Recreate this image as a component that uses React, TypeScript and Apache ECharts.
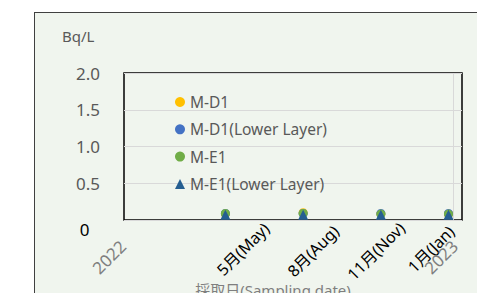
import React, { useEffect, useRef } from "react";
import * as echarts from "echarts";

const FONT = '"Noto Sans", "Noto Sans CJK JP", sans-serif';

const sampleDates = ["2022-05-01", "2022-08-01", "2022-11-01", "2023-01-20"];
const seriesNames = ["M-D1", "M-D1(Lower Layer)", "M-E1", "M-E1(Lower Layer)"];
const mD1 = [0.08, 0.1, 0.08, 0.08];
const mD1Lower = [0.09, 0.09, 0.09, 0.09];
const mE1 = [0.09, 0.09, 0.08, 0.08];
const mE1Lower = [0.07, 0.07, 0.07, 0.07];
const seriesColors = ["#FFC000", "#4472C4", "#70AD47", "#255E91"];
const seriesSymbols = ["circle", "circle", "circle", "triangle"];
const monthLabels = ["5月(May)", "8月(Aug)", "11月(Nov)", "1月(Jan)"];
const yearLabels = ["2022", "2023"];
const yTickLabels = ["0", "0.5", "1.0", "1.5", "2.0"];
const xMin = "2022-01-01";
const xMax = "2023-02-05";
const yearBoundaryLine = "2023-01-26";

export default function App() {
  const ref = useRef<HTMLDivElement>(null);

  useEffect(() => {
    document.body.style.margin = "0";
    if (!ref.current) return;
    const chart = echarts.init(ref.current, null, { renderer: "svg" });
    const values = [mD1, mD1Lower, mE1, mE1Lower];

    const monthPos = [
      [243, 249],
      [313, 251],
      [376, 251],
      [431, 249],
    ];
    const yearPos = [
      [109, 257],
      [441, 257],
    ];

    const graphics: any[] = [
      {
        type: "text",
        left: 62,
        top: 28,
        style: { text: "Bq/L", fill: "#595959", fontSize: 15, fontFamily: FONT },
      },
      {
        type: "text",
        x: 84.5,
        y: 229,
        style: {
          text: yTickLabels[0],
          fill: "#000000",
          fontSize: 17,
          fontFamily: FONT,
          align: "center",
          verticalAlign: "middle",
        },
      },
      {
        type: "text",
        x: 273,
        y: 282,
        style: {
          text: "採取日(Sampling date)",
          fill: "#7f7f7f",
          fontSize: 15,
          fontFamily: FONT,
          align: "center",
          verticalAlign: "top",
        },
      },
    ];
    monthLabels.forEach((t, i) => {
      graphics.push({
        type: "text",
        x: monthPos[i][0],
        y: monthPos[i][1],
        rotation: Math.PI / 4,
        style: {
          text: t,
          fill: "#000000",
          fontSize: 16,
          fontFamily: FONT,
          align: "center",
          verticalAlign: "middle",
        },
      });
    });
    yearLabels.forEach((t, i) => {
      graphics.push({
        type: "text",
        x: yearPos[i][0],
        y: yearPos[i][1],
        rotation: Math.PI / 4,
        style: {
          text: t,
          fill: "#7f7f7f",
          fontSize: 17,
          fontFamily: FONT,
          align: "center",
          verticalAlign: "middle",
        },
      });
    });

    const series: any[] = seriesNames.map((name, i) => ({
      name,
      type: "scatter",
      symbol: seriesSymbols[i],
      symbolSize: i === 3 ? 10 : 9,
      itemStyle: { color: seriesColors[i], opacity: 1 },
      data: sampleDates.map((d, j) => [d, values[i][j]]),
      z: 3 + i,
    }));
    series[0].markLine = {
      silent: true,
      symbol: "none",
      label: { show: false },
      lineStyle: { color: "#d9d9d9", type: "solid", width: 1 },
      data: [{ xAxis: yearBoundaryLine }],
      z: 1,
    };

    chart.setOption({
      animation: false,
      backgroundColor: "transparent",
      textStyle: { fontFamily: FONT },
      grid: {
        left: 124,
        top: 73,
        right: 15,
        bottom: 73,
        show: true,
        borderColor: "#000000",
        borderWidth: 1.5,
        backgroundColor: "transparent",
      },
      legend: {
        orient: "vertical",
        left: 170,
        top: 89,
        itemWidth: 10,
        itemHeight: 10,
        itemGap: 11.3,
        textStyle: { fontSize: 15.5, color: "#595959", fontFamily: FONT, lineHeight: 16 },
        data: seriesNames.map((n, i) => ({ name: n, icon: seriesSymbols[i] })),
      },
      xAxis: {
        type: "time",
        min: xMin,
        max: xMax,
        axisLabel: { show: false },
        axisTick: { show: false },
        axisLine: { show: false },
        splitLine: { show: false },
      },
      yAxis: {
        type: "value",
        min: 0,
        max: 2,
        interval: 0.5,
        axisLine: { show: false },
        axisTick: { show: false },
        axisLabel: {
          margin: 24,
          color: "#595959",
          fontSize: 17,
          fontFamily: FONT,
          formatter: (v: number) => {
            const idx = Math.round(v / 0.5);
            return idx === 0 ? "" : yTickLabels[idx];
          },
        },
        splitLine: { lineStyle: { color: "#d9d9d9", width: 1 } },
      },
      graphic: graphics,
      series,
    });

    return () => chart.dispose();
  }, []);

  return (
    <div
      style={{
        position: "relative",
        width: 477,
        height: 293,
        overflow: "hidden",
        background: "#ffffff",
      }}
    >
      <div
        style={{
          position: "absolute",
          left: 34,
          top: 12,
          width: 480,
          height: 320,
          border: "1.5px solid #404040",
          background: "#F0F5EE",
        }}
      />
      <div
        ref={ref}
        style={{ position: "absolute", left: 0, top: 0, width: 477, height: 293 }}
      />
    </div>
  );
}
